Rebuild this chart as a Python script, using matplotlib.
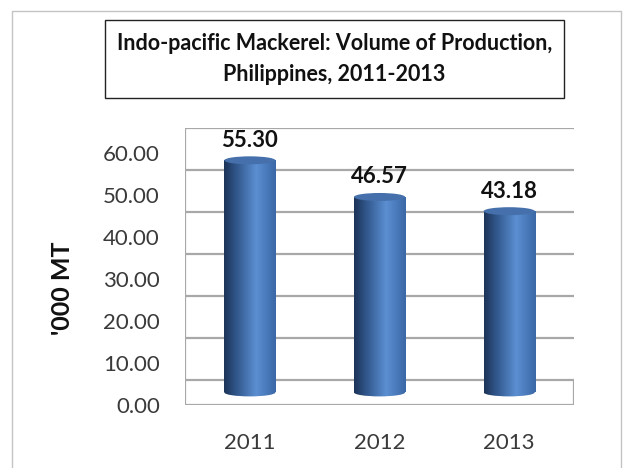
import matplotlib
matplotlib.use("Agg")
import matplotlib.pyplot as plt
import numpy as np
from matplotlib.colors import LinearSegmentedColormap
from matplotlib.patches import Ellipse, Rectangle

plt.rcParams["font.family"] = ["Lato", "DejaVu Sans"]

years = ["2011", "2012", "2013"]
volumes = [55.30, 46.57, 43.18]
y_ticks = [0, 10, 20, 30, 40, 50, 60]

# depth of the pseudo-3D floor, in value units
DEPTH = 6.0
TOP = 66.0
HALF_W = 0.197
CAP_H = 1.9

W, H = 624, 468
fig = plt.figure(figsize=(W / 100, H / 100), dpi=100)


def fx(px):
    return px / W


def fy(py):
    return 1 - py / H


# outer frame
fig.add_artist(plt.Line2D([fx(12), fx(12), fx(621), fx(621)],
                          [fy(468), fy(11), fy(11), fy(468)],
                          color="#c4c4c4", lw=1.0))

# title box
fig.add_artist(Rectangle((fx(105), fy(98)), fx(564) - fx(105), fy(20) - fy(98),
                         transform=fig.transFigure, fill=False,
                         edgecolor="#222222", lw=1.0))
fig.text(fx(334.5), fy(59), "Indo-pacific Mackerel: Volume of Production,\nPhilippines, 2011-2013",
         ha="center", va="center", fontsize=15.5, fontweight="bold",
         linespacing=1.55, color="#111111")

ax = fig.add_axes([fx(185), fy(405), fx(574) - fx(185), fy(128) - fy(405)])
ax.set_xlim(0, 3)
ax.set_ylim(0, TOP)
for s in ax.spines.values():
    s.set_visible(False)

grid_c = "#a8a8a8"
# back wall gridlines, shifted up by the floor depth
for v in y_ticks:
    ax.plot([0, 3], [v + DEPTH, v + DEPTH], color=grid_c, lw=1.6, zorder=1,
            solid_capstyle="butt")
# floor outline and left wall edge
ax.plot([0, 0], [0, TOP], color=grid_c, lw=1.6, zorder=1, solid_capstyle="butt")
ax.plot([0, 3, 3], [0, 0, DEPTH], color=grid_c, lw=1.6, zorder=1,
        solid_capstyle="butt")

cmap = LinearSegmentedColormap.from_list(
    "cyl", [(0.0, "#1c3356"), (0.22, "#2f5488"), (0.62, "#5b8fd2"),
            (1.0, "#3b68a6")])
grad = np.linspace(0, 1, 256).reshape(1, -1)

base = DEPTH / 2
for i, v in enumerate(volumes):
    cx = i + 0.5
    top = v + base
    body = Rectangle((cx - HALF_W, base), 2 * HALF_W, v, transform=ax.transData)
    foot = Ellipse((cx, base), 2 * HALF_W, CAP_H, transform=ax.transData)
    for clip in (body, foot):
        im = ax.imshow(grad, cmap=cmap, aspect="auto", zorder=3,
                       extent=[cx - HALF_W, cx + HALF_W, base - CAP_H, top],
                       interpolation="bilinear")
        im.set_clip_path(clip)
    ax.add_patch(Ellipse((cx, top), 2 * HALF_W, CAP_H, facecolor="#4570ab",
                         edgecolor="none", zorder=4))
    ax.text(cx, top + 4.8, f"{v:.2f}", ha="center", va="center",
            fontsize=16, fontweight="bold", color="#111111", zorder=5)

ax.set_xlim(0, 3)
ax.set_ylim(0, TOP)
ax.set_xticks([i + 0.5 for i in range(len(years))])
ax.set_xticklabels(years)
ax.set_yticks(y_ticks)
ax.set_yticklabels([f"{t:.2f}" for t in y_ticks])
ax.tick_params(length=0, labelsize=16, colors="#3a3a3a")
ax.tick_params(axis="y", pad=18)
ax.tick_params(axis="x", pad=20)
ax.set_ylabel("'000 MT", fontsize=18, fontweight="bold", color="#111111",
              va="center")
ax.yaxis.set_label_coords(-0.314, 0.42)

fig.savefig("out.png", dpi=100)
